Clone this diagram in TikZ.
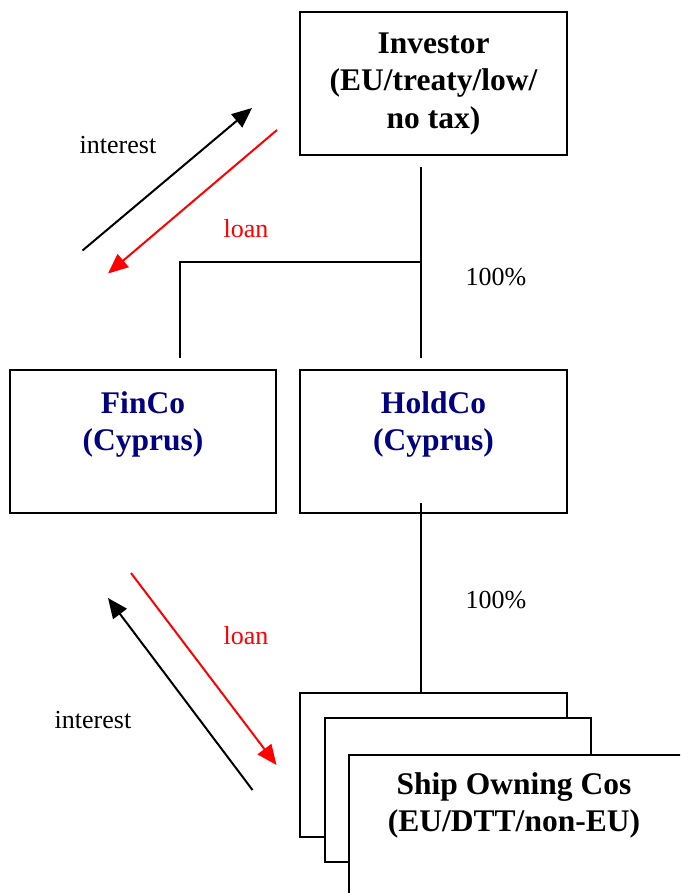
\documentclass[tikz,border=0pt]{standalone}
\usepackage{fontspec}
\setmainfont{Liberation Serif}
\usetikzlibrary{arrows.meta}
\definecolor{entityblue}{RGB}{0,0,128}
\begin{document}
\begin{tikzpicture}[x=1pt,y=-1pt,
  entity/.style={draw=black, line width=2pt, fill=white},
  title/.style={font=\fontsize{31.5}{37.5}\selectfont\bfseries, align=center, anchor=north, inner sep=0pt},
  label/.style={font=\fontsize{26}{30}\selectfont, inner sep=0pt},
  link/.style={line width=1.5pt},
  flow/.style={line width=2pt, -{Triangle[length=20pt,width=17pt]}}
]
\useasboundingbox (0,0) rectangle (680,893);
\begin{scope}
\clip (0,0) rectangle (680,893);

% shareholder
\draw[entity] (300,12) rectangle (567,155);
\node[title] (inv) at (433.5,32.5) {Investor\\(EU/treaty/low/\\no tax)};

% Cyprus companies
\draw[entity] (10,370) rectangle (276,513);
\node[title, text=entityblue] (finco) at (143,391) {FinCo\\(Cyprus)};
\draw[entity] (300,370) rectangle (567,513);
\node[title, text=entityblue] (holdco) at (433.5,391) {HoldCo\\(Cyprus)};

% stacked ship owning companies
\draw[entity] (300,693) rectangle (567,837);
\draw[entity] (325,718) rectangle (591,862);
\draw[entity] (349,755) rectangle (700,910);
\node[title] (ships) at (514,772) {Ship Owning Cos\\(EU/DTT/non-EU)};
\end{scope}

% ownership lines
\coordinate (a1) at (421,167);
\coordinate (a2) at (421,262);
\coordinate (a3) at (421,358);
\coordinate (f1) at (180,262);
\coordinate (f2) at (180,358);
\coordinate (h1) at (421,503);
\coordinate (h2) at (421,693);
\draw[link] (a1) -- (a3);
\draw[link] (a2) -- (f1) -- (f2);
\draw[link] (h1) -- (h2);
\node[label] (p1) at (496,277) {100\%};
\node[label] (p2) at (496,600) {100\%};

% upper loan / interest flows
\coordinate (ui0) at (82.5,250.5);
\coordinate (ui1) at (252,108);
\coordinate (ul0) at (277,130);
\coordinate (ul1) at (108,273.5);
\draw[flow] (ui0) -- (ui1);
\draw[flow, red] (ul0) -- (ul1);
\node[label] (uint) at (118,145) {interest};
\node[label, text=red] (uloan) at (246,229) {loan};

% lower loan / interest flows
\coordinate (ll0) at (131,573);
\coordinate (ll1) at (276.5,765);
\coordinate (li0) at (252.5,790);
\coordinate (li1) at (108,598);
\draw[flow, red] (ll0) -- (ll1);
\draw[flow] (li0) -- (li1);
\node[label, text=red] (lloan) at (246,636) {loan};
\node[label] (lint) at (93,720) {interest};
\end{tikzpicture}
\end{document}
